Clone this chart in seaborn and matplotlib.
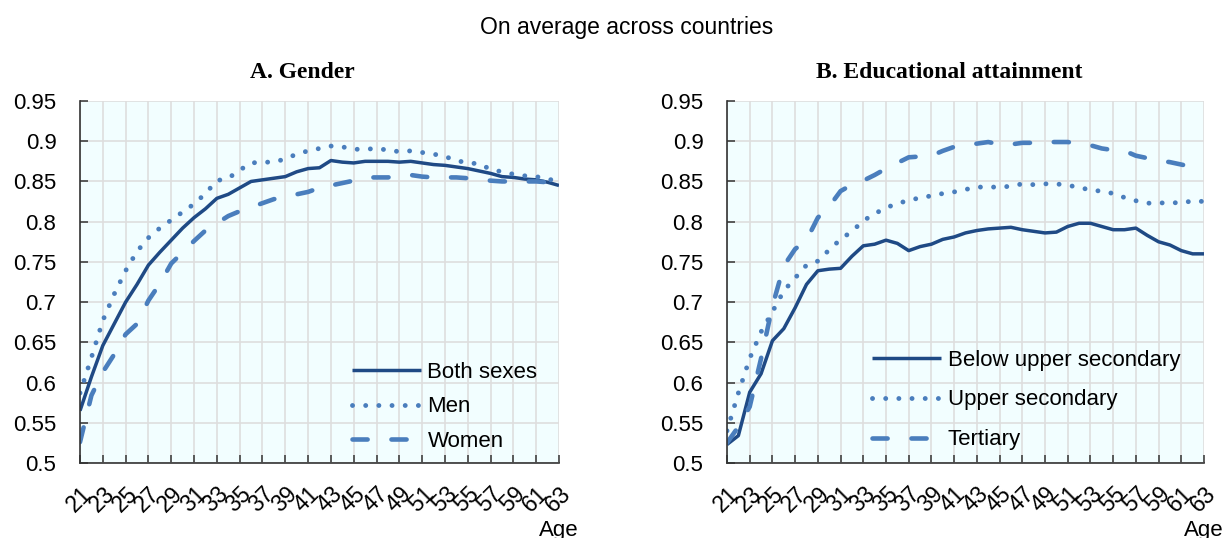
import numpy as np
import pandas as pd
import matplotlib
matplotlib.use("Agg")
import matplotlib.pyplot as plt
import matplotlib.transforms as mtransforms
import seaborn as sns

# ---- data ----
AGES = list(range(21, 64))

BOTH_SEXES = [0.565, 0.607, 0.646, 0.673, 0.700, 0.722, 0.746, 0.762, 0.777, 0.792,
              0.805, 0.816, 0.829, 0.834, 0.842, 0.850, 0.852, 0.854, 0.856, 0.862,
              0.866, 0.867, 0.876, 0.874, 0.873, 0.875, 0.875, 0.875, 0.874, 0.875,
              0.873, 0.871, 0.870, 0.868, 0.866, 0.863, 0.860, 0.856, 0.855, 0.853,
              0.852, 0.849, 0.845]
MEN = [0.587, 0.631, 0.677, 0.710, 0.739, 0.763, 0.780, 0.792, 0.802, 0.812,
       0.822, 0.835, 0.851, 0.854, 0.864, 0.873, 0.874, 0.874, 0.878, 0.884,
       0.888, 0.891, 0.894, 0.893, 0.890, 0.890, 0.891, 0.889, 0.887, 0.888,
       0.886, 0.884, 0.881, 0.876, 0.873, 0.872, 0.865, 0.862, 0.859, 0.857,
       0.856, 0.853, 0.850]
WOMEN = [0.526, 0.584, 0.613, 0.635, 0.660, 0.673, 0.702, 0.723, 0.748, 0.762,
         0.776, 0.789, 0.798, 0.807, 0.813, 0.818, 0.823, 0.828, 0.830, 0.834,
         0.837, 0.842, 0.845, 0.848, 0.851, 0.855, 0.855, 0.855, 0.857, 0.858,
         0.856, 0.855, 0.855, 0.855, 0.854, 0.852, 0.851, 0.850, 0.850, 0.850,
         0.850, 0.849, 0.845]

BELOW_UPPER_SEC = [0.523, 0.534, 0.588, 0.611, 0.652, 0.667, 0.693, 0.722, 0.739, 0.741,
                   0.742, 0.757, 0.770, 0.772, 0.777, 0.773, 0.764, 0.769, 0.772, 0.778,
                   0.781, 0.786, 0.789, 0.791, 0.792, 0.793, 0.790, 0.788, 0.786, 0.787,
                   0.794, 0.798, 0.798, 0.794, 0.790, 0.790, 0.792, 0.783, 0.775, 0.771,
                   0.764, 0.760, 0.760]
UPPER_SEC = [0.540, 0.587, 0.630, 0.663, 0.688, 0.714, 0.730, 0.746, 0.751, 0.765,
             0.778, 0.788, 0.801, 0.810, 0.817, 0.823, 0.826, 0.830, 0.832, 0.835,
             0.837, 0.840, 0.843, 0.843, 0.843, 0.844, 0.847, 0.846, 0.847, 0.847,
             0.845, 0.843, 0.839, 0.838, 0.835, 0.830, 0.826, 0.823, 0.823, 0.824,
             0.823, 0.826, 0.825]
TERTIARY = [0.525, 0.545, 0.570, 0.630, 0.695, 0.745, 0.766, 0.777, 0.805, 0.819,
            0.838, 0.846, 0.851, 0.858, 0.866, 0.873, 0.880, 0.881, 0.882, 0.888,
            0.893, 0.896, 0.897, 0.899, 0.896, 0.896, 0.898, 0.898, 0.899, 0.899,
            0.899, 0.897, 0.895, 0.891, 0.889, 0.888, 0.882, 0.879, 0.876, 0.874,
            0.871, 0.868, 0.863]

SUPTITLE = "On average across countries"
PANEL_TITLES = ["A. Gender", "B. Educational attainment"]
GENDER_LABELS = ["Both sexes", "Men", "Women"]
EDU_LABELS = ["Below upper secondary", "Upper secondary", "Tertiary"]
Y_TICKS = [0.5, 0.55, 0.6, 0.65, 0.7, 0.75, 0.8, 0.85, 0.9, 0.95]
Y_TICK_LABELS = ["0.5", "0.55", "0.6", "0.65", "0.7", "0.75", "0.8", "0.85", "0.9", "0.95"]

# ---- style ----
DARK = "#1f4a85"
LIGHT = "#4a7ebd"
BG = "#f2feff"
GRID = "#dedede"

sns.set_theme(style="white")
plt.rcParams["font.family"] = ["Liberation Sans", "DejaVu Sans"]
plt.rcParams["text.color"] = "black"

STYLES = [
    dict(color=DARK, linewidth=2.5, linestyle="-", solid_capstyle="butt"),
    dict(color=LIGHT, linewidth=3.5, linestyle=(0, (0.01, 2.7)), dash_capstyle="round"),
    dict(color=LIGHT, linewidth=3.3, linestyle=(0, (3.3, 5.2)), dash_capstyle="round"),
]

fig = plt.figure(figsize=(12.24, 5.38), dpi=100)
ax_l = fig.add_axes([80 / 1224, 1 - 463 / 538, 479 / 1224, 362 / 538])
ax_r = fig.add_axes([727 / 1224, 1 - 463 / 538, 477 / 1224, 362 / 538])

panels = [
    (ax_l, GENDER_LABELS, [BOTH_SEXES, MEN, WOMEN]),
    (ax_r, EDU_LABELS, [BELOW_UPPER_SEC, UPPER_SEC, TERTIARY]),
]

shift = mtransforms.ScaledTranslation(-4 / 100, 0, fig.dpi_scale_trans)

for i, (ax, labels, series) in enumerate(panels):
    ax.set_facecolor(BG)
    for lab, vals, st in zip(labels, series, STYLES):
        df = pd.DataFrame({"age": AGES, "value": vals})
        sns.lineplot(data=df, x="age", y="value", ax=ax, label=lab,
                     errorbar=None, sort=False, **st)

    ax.set_xlim(21, 63)
    ax.set_ylim(0.5, 0.95)
    ax.set_xticks(AGES[::2])
    ax.set_xticklabels([str(a) for a in AGES[::2]], rotation=45,
                       ha="right", va="top", rotation_mode="anchor", fontsize=16.5)
    for t in ax.get_xticklabels():
        t.set_transform(t.get_transform() + shift)
    ax.set_yticks(Y_TICKS)
    ax.set_yticklabels(Y_TICK_LABELS, fontsize=16)
    ax.set_xlabel("")
    ax.set_ylabel("")
    ax.grid(True, color=GRID, linewidth=1.2)
    ax.set_axisbelow(True)
    for s in ["top", "right"]:
        ax.spines[s].set_visible(False)
    for s in ["left", "bottom"]:
        ax.spines[s].set_color("#333333")
        ax.spines[s].set_linewidth(1.2)
    ax.tick_params(axis="both", direction="in", length=6, width=1.1,
                   color="#333333", labelcolor="black", left=True, bottom=True)
    ax.tick_params(axis="x", pad=14)
    ax.tick_params(axis="y", pad=17)

    ax.text(0.465, 1.08, PANEL_TITLES[i], transform=ax.transAxes, ha="center",
            va="center", fontsize=17, fontweight="bold", family="Liberation Serif")
    ax.text(1.0, -0.187, "Age", transform=ax.transAxes, ha="center", va="center",
            fontsize=16)

    leg = ax.legend(loc="lower right", frameon=False, fontsize=16,
                    handlelength=3.1, handletextpad=0.3, borderpad=0,
                    borderaxespad=0,
                    labelspacing=0.62 if i == 0 else 0.85,
                    bbox_to_anchor=(0.955, 0.03) if i == 0 else (0.95, 0.035))
    for h, st in zip(leg.get_lines(), STYLES):
        h.set_linewidth(st["linewidth"])

fig.text(0.512, 1 - 28 / 538, SUPTITLE, ha="center", va="center", fontsize=16.5)

fig.savefig("out.png", dpi=100)
